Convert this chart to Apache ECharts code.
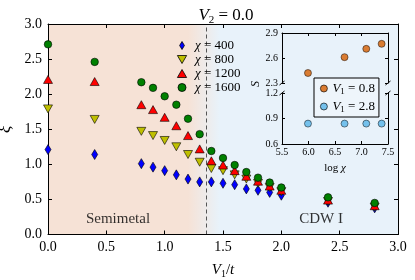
<!DOCTYPE html>
<html><head><meta charset="utf-8">
<script src="https://cdn.jsdelivr.net/npm/echarts@6/dist/echarts.min.js"></script>
<style>html,body{margin:0;padding:0;background:#fff}#c{width:415px;height:280px}</style>
</head><body><div id="c"></div>
<script>
// ---------------- data ----------------
const V1 = [0, 0.4, 0.8, 0.9, 1.0, 1.1, 1.2, 1.3, 1.4, 1.5, 1.6, 1.7, 1.8, 1.9, 2.0, 2.4, 2.8];
const xi400  = [1.21, 1.14, 1.01, 0.96, 0.91, 0.85, 0.79, 0.75, 0.75, 0.73, 0.71, 0.65, 0.63, 0.60, 0.56, 0.46, 0.38];
const xi800  = [1.79, 1.64, 1.47, 1.41, 1.34, 1.25, 1.14, 1.03, 0.94, 0.91, 0.85, 0.79, 0.73, 0.67, 0.61, 0.47, 0.39];
const xi1200 = [2.21, 2.18, 1.85, 1.78, 1.67, 1.55, 1.41, 1.22, 1.05, 0.99, 0.91, 0.83, 0.76, 0.69, 0.63, 0.49, 0.41];
const xi1600 = [2.71, 2.46, 2.17, 2.09, 1.97, 1.85, 1.65, 1.43, 1.19, 1.09, 0.99, 0.89, 0.81, 0.74, 0.67, 0.53, 0.45];
const chiNames = ['χ = 400', 'χ = 800', 'χ = 1200', 'χ = 1600'];

const logChi = [5.99, 6.68, 7.09, 7.38];
const S_V08 = [2.42, 2.61, 2.71, 2.77];
const S_V28 = [0.84, 0.84, 0.84, 0.84];
const insetNames = ['V1 = 0.8', 'V1 = 2.8'];

const phaseBoundary = 1.36;
const regionNames = ['Semimetal', 'CDW I'];
const regionX = [0.6, 2.34];
const regionY = [0.22, 0.22];

const mainXTicks = {min: 0, max: 3, interval: 0.5};
const mainYTicks = {min: 0, max: 3, interval: 0.5};
const insetXTicks = {min: 5.5, max: 7.5, interval: 0.5};
const insetTopTicks = {min: 2.3, max: 2.9, interval: 0.3};
const insetBotTicks = {min: 0.6, max: 1.2, interval: 0.3};

// ---------------- style ----------------
const FONT = 'Liberation Serif';
const PEACH = '#f6e2d6', SKY = '#e8f2fa';
const DIAMOND = 'path://M3,0L6,5L3,10L0,5Z';
const TRI_DOWN = 'path://M0,0L10,0L5,8.66Z';
const TRI_UP = 'path://M5,0L10,8.66L0,8.66Z';
const rich = {
  i: {fontFamily: FONT, fontStyle: 'italic', fontWeight: 'normal', fontSize: 13, color: '#000'},
  n: {fontFamily: FONT, fontWeight: 'normal', fontSize: 13, color: '#000'},
  s: {fontFamily: FONT, fontWeight: 'normal', fontSize: 9, color: '#000', verticalAlign: 'bottom', lineHeight: 15}
};

const chart = echarts.init(document.getElementById('c'));

function baseAxis(o) {
  return Object.assign({
    type: 'value', z: 3,
    axisLine: {show: true, onZero: false, lineStyle: {color: '#000', width: 1}},
    axisTick: {show: true, inside: true, length: 4, lineStyle: {color: '#000', width: 1}},
    splitLine: {show: false},
    axisLabel: {show: true, fontFamily: FONT, fontSize: 14, color: '#000', margin: 6, formatter: v => v.toFixed(1)}
  }, o);
}
function noLabel(o) { const a = baseAxis(o); a.axisLabel = {show: false}; return a; }

function mainSeries(name, ys, symbol, size, color) {
  return {
    type: 'scatter', name, xAxisIndex: 0, yAxisIndex: 0,
    data: V1.map((x, i) => [x, ys[i]]),
    symbol, symbolSize: size, z: 4,
    itemStyle: {color, borderColor: '#000', borderWidth: 0.6, opacity: 1},
    emphasis: {disabled: true}
  };
}

const background = {
  type: 'scatter', xAxisIndex: 0, yAxisIndex: 0, data: [], z: -1, silent: true,
  markArea: {
    silent: true, z: -1,
    itemStyle: {color: new echarts.graphic.LinearGradient(0, 0, 1, 0, [
      {offset: 0, color: PEACH}, {offset: 0.4, color: PEACH},
      {offset: 0.49, color: SKY}, {offset: 1, color: SKY}])},
    data: [[{xAxis: mainXTicks.min, yAxis: mainYTicks.min}, {xAxis: mainXTicks.max, yAxis: mainYTicks.max}]]
  },
  markLine: {
    silent: true, symbol: 'none', label: {show: false}, z: -1,
    lineStyle: {type: [4, 3], color: '#555', width: 1},
    data: [{xAxis: phaseBoundary}]
  }
};
const s400 = mainSeries(chiNames[0], xi400, DIAMOND, [6, 10], '#0000ff');
const s800 = mainSeries(chiNames[1], xi800, TRI_DOWN, [9, 8], '#bfbf00');
const s1200 = mainSeries(chiNames[2], xi1200, TRI_UP, [9, 8], '#ff0000');
const s1600 = mainSeries(chiNames[3], xi1600, 'circle', 7.5, '#008000');

const regions = {
  type: 'scatter', xAxisIndex: 0, yAxisIndex: 0, silent: true, z: 4,
  data: regionNames.map((n, i) => ({value: [regionX[i], regionY[i]], name: n})),
  symbolSize: 1, itemStyle: {color: 'rgba(0,0,0,0)'},
  label: {show: true, position: 'inside', formatter: p => p.name, fontFamily: FONT, fontSize: 15, color: '#000'}
};

function insetSeries(name, ys, color, axisIdx) {
  return {
    type: 'scatter', name, xAxisIndex: axisIdx.x, yAxisIndex: axisIdx.y, z: 4,
    data: logChi.map((x, i) => [x, ys[i]]),
    symbol: 'circle', symbolSize: 7,
    itemStyle: {color, borderColor: '#000', borderWidth: 0.6},
    emphasis: {disabled: true}
  };
}

function insetAxis(o, labels) {
  const a = labels ? baseAxis(o) : noLabel(o);
  if (labels) { a.axisLabel.fontSize = 10; a.axisLabel.margin = 4; }
  a.axisTick.length = 3;
  return a;
}

const option = {
  backgroundColor: '#fff',
  animation: false,
  title: {
    text: '{v|V}{s|2}{n| = 0.0}', left: 221, top: 1, textAlign: 'center',
    textStyle: {fontWeight: 'normal', rich: {
      v: {fontFamily: FONT, fontStyle: 'italic', fontWeight: 'normal', fontSize: 17, color: '#000'},
      n: {fontFamily: FONT, fontWeight: 'normal', fontSize: 17, color: '#000'},
      s: {fontFamily: FONT, fontWeight: 'normal', fontSize: 11, color: '#000', verticalAlign: 'bottom', lineHeight: 20}
    }}
  },
  grid: [
    {left: 48, right: 17, top: 24, bottom: 45.5, outerBoundsMode: 'none', containLabel: false},
    {left: 282, right: 27, top: 33, height: 50, outerBoundsMode: 'none', containLabel: false},
    {left: 282, right: 27, top: 93, height: 51, outerBoundsMode: 'none', containLabel: false}
  ],
  xAxis: [
    baseAxis(Object.assign({gridIndex: 0, position: 'bottom',
      name: '{i|V}{s|1}{n|/}{i|t}', nameLocation: 'middle', nameGap: 27,
      nameTextStyle: {rich: {
        i: {fontFamily: FONT, fontStyle: 'italic', fontSize: 15, color: '#000'},
        n: {fontFamily: FONT, fontSize: 15, color: '#000'},
        s: {fontFamily: FONT, fontSize: 10, color: '#000', verticalAlign: 'bottom', lineHeight: 18}
      }}}, mainXTicks)),
    noLabel(Object.assign({gridIndex: 0, position: 'top'}, mainXTicks)),
    insetAxis(Object.assign({gridIndex: 1, position: 'top'}, insetXTicks), false),
    (() => { const a = insetAxis(Object.assign({gridIndex: 2, position: 'bottom',
      name: '{n|log }{i|χ}', nameLocation: 'middle', nameGap: 19,
      nameTextStyle: {rich: {
        i: {fontFamily: FONT, fontStyle: 'italic', fontSize: 11, color: '#000'},
        n: {fontFamily: FONT, fontSize: 11, color: '#000'}}}}, insetXTicks), true);
      a.axisLabel.margin = 3; return a; })()
  ],
  yAxis: [
    baseAxis(Object.assign({gridIndex: 0, position: 'left',
      name: 'ξ', nameLocation: 'middle', nameGap: 29, nameRotate: 90,
      nameTextStyle: {fontFamily: FONT, fontStyle: 'italic', fontSize: 17, color: '#000'}}, mainYTicks)),
    noLabel(Object.assign({gridIndex: 0, position: 'right'}, mainYTicks)),
    insetAxis(Object.assign({gridIndex: 1, position: 'left'}, insetTopTicks), true),
    insetAxis(Object.assign({gridIndex: 1, position: 'right'}, insetTopTicks), false),
    insetAxis(Object.assign({gridIndex: 2, position: 'left'}, insetBotTicks), true),
    insetAxis(Object.assign({gridIndex: 2, position: 'right'}, insetBotTicks), false)
  ],
  legend: [
    {
      data: chiNames, orient: 'vertical', left: 172, top: 34,
      itemWidth: 16, itemHeight: 8, itemGap: 1, selectedMode: false,
      itemStyle: {borderColor: '#000', borderWidth: 0.8},
      formatter: n => '{i|χ}{n|' + n.slice(1) + '}',
      textStyle: {fontFamily: FONT, fontSize: 13, lineHeight: 13, color: '#000', rich}
    },
    {
      data: insetNames, orient: 'vertical', left: 314, top: 78,
      itemWidth: 7, itemHeight: 7, itemGap: 3, selectedMode: false,
      itemStyle: {borderColor: '#000', borderWidth: 0.8},
      backgroundColor: '#eef5fb', borderColor: '#000', borderWidth: 1, borderRadius: 0,
      padding: [3, 4, 3, 6],
      formatter: n => '{i|V}{s|1}{n|' + n.slice(2) + '}',
      textStyle: {fontFamily: FONT, fontSize: 13, lineHeight: 13, color: '#000', rich}
    }
  ],
  graphic: [
    {type: 'text', left: 250, top: 81, rotation: Math.PI / 2, z: 10,
      style: {text: 'S', fontFamily: FONT, fontStyle: 'italic', fontSize: 12, fill: '#000'}},
    {type: 'line', z: 10, shape: {x1: 279.5, y1: 85, x2: 284.5, y2: 81}, style: {stroke: '#000', lineWidth: 1}},
    {type: 'line', z: 10, shape: {x1: 279.5, y1: 95, x2: 284.5, y2: 91}, style: {stroke: '#000', lineWidth: 1}},
    {type: 'line', z: 10, shape: {x1: 385.5, y1: 85, x2: 390.5, y2: 81}, style: {stroke: '#000', lineWidth: 1}},
    {type: 'line', z: 10, shape: {x1: 385.5, y1: 95, x2: 390.5, y2: 91}, style: {stroke: '#000', lineWidth: 1}}
  ],
  series: [
    background, s400, s800, s1200, s1600, regions,
    insetSeries(insetNames[0], S_V08, '#d55e00', {x: 2, y: 2}),
    insetSeries(insetNames[1], S_V28, '#56b4e9', {x: 3, y: 4})
  ]
};
chart.setOption(option);
</script>
</body></html>
